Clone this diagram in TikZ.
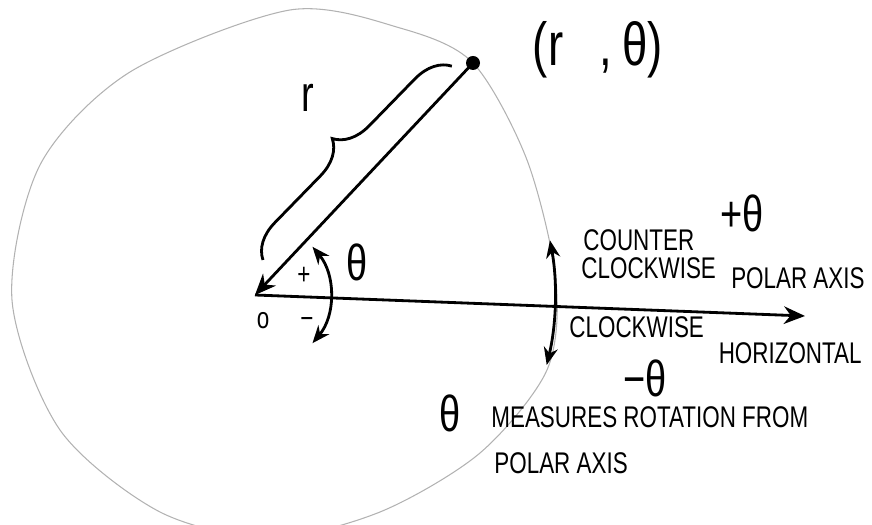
\documentclass[tikz,border=0pt]{standalone}
\usepackage{fontspec}
\newfontfamily\sketch[FakeStretch=0.75]{Liberation Sans}
\usetikzlibrary{arrows.meta, decorations.pathreplacing}

\begin{document}
\begin{tikzpicture}[x=0.01cm, y=-0.01cm, thick,
    hand/.style={font=\sketch\fontsize{8.5}{10}\selectfont, inner sep=0pt},
    big/.style={font=\sketch\Large, inner sep=0pt},
    faint/.style={black!30, line width=0.3pt},
    tip/.style={-{Stealth[length=6pt, width=5pt]}},
    both/.style={{Stealth[length=5pt, width=4pt]}-{Stealth[length=5pt, width=4pt]}}]
  \useasboundingbox (0,0) rectangle (872,525);
  \clip (0,0) rectangle (872,525);
  \coordinate (o) at (255,295);
  \coordinate (p) at (473,63);
  \coordinate (a) at (805,316);
  \draw[faint] plot[smooth cycle] coordinates {(290,10) (400,28) (473,63)
    (527,160) (556,280) (547,370) (480,453) (380,512) (270,538) (160,512)
    (60,430) (12,300) (40,165) (130,72)};
  \draw[tip] (o) -- (a);
  \draw[tip] (p) -- (o);
  \fill (p) circle (7);
  \coordinate (b1) at (263,260);
  \coordinate (b2) at (452,66);
  \draw[decorate, decoration={brace, amplitude=10pt}] (b1) -- (b2);
  \draw[both] ([shift={(40:75)}]o) arc[start angle=40, end angle=-40, radius=75];
  \draw[both] ([shift={(13.5:300)}]o) arc[start angle=13.5, end angle=-10.5, radius=300];
  \node[big] (rl) at (308,98) {r};
  \node[font=\sketch\LARGE, inner sep=0pt] (pl) at (598,50) {(r\hspace{0.6em},\,θ)};
  \node[big] (th) at (357,262) {θ};
  \node[hand] (pls) at (304,276) {+};
  \node[hand] (mns) at (307,323) {−};
  \node[hand] (on) at (263,321) {o};
  \node[hand, anchor=west] (ccw1) at (582,240) {COUNTER};
  \node[hand, anchor=west] (ccw2) at (580,268) {CLOCKWISE};
  \node[big] (pth) at (742,213) {+θ};
  \node[hand, anchor=east] (pax) at (866,278) {POLAR AXIS};
  \node[hand, anchor=west] (cw) at (568,327) {CLOCKWISE};
  \node[hand, anchor=east] (hz) at (863,353) {HORIZONTAL};
  \node[big] (mth) at (645,378) {−θ};
  \node[big] (mt) at (450,413) {θ};
  \node[hand, anchor=west] (m1) at (490,417) {MEASURES ROTATION FROM};
  \node[hand, anchor=west] (m2) at (493,463) {POLAR AXIS};
\end{tikzpicture}
\end{document}
